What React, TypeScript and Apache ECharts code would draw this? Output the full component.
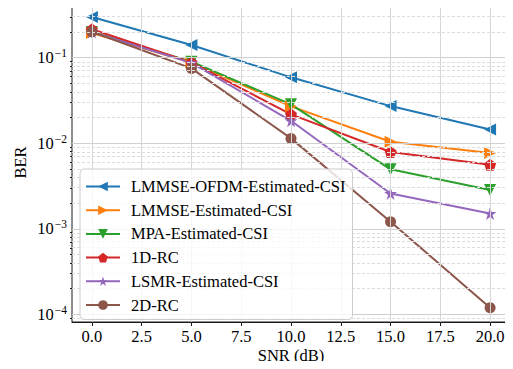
import React, { useEffect, useRef } from "react";
import * as echarts from "echarts";

const snr = [0, 5, 10, 15, 20];
const seriesNames = [
  "LMMSE-OFDM-Estimated-CSI",
  "LMMSE-Estimated-CSI",
  "MPA-Estimated-CSI",
  "1D-RC",
  "LSMR-Estimated-CSI",
  "2D-RC",
];
const berLmmseOfdm = [0.3, 0.141, 0.059, 0.0272, 0.0145];
const berLmmse = [0.195, 0.088, 0.027, 0.0104, 0.0077];
const berMpa = [0.2, 0.09, 0.0285, 0.00496, 0.00284];
const ber1dRc = [0.215, 0.088, 0.0218, 0.0079, 0.0056];
const berLsmr = [0.2, 0.087, 0.0183, 0.00259, 0.00151];
const ber2dRc = [0.201, 0.075, 0.0114, 0.00121, 0.000119];
const xTicks = [0, 2.5, 5, 7.5, 10, 12.5, 15, 17.5, 20];
const yMajorExp = [-4, -3, -2, -1];
const colors = ["#1f77b4", "#ff7f0e", "#2ca02c", "#d62728", "#9467bd", "#8c564b"];

const FONT = "Liberation Serif";
const FS = 16.5;

const pentagon =
  "path://M0,-1 L0.951,-0.309 L0.588,0.809 L-0.588,0.809 L-0.951,-0.309 Z";
const star =
  "path://M0,-1 L0.2245,-0.309 L0.951,-0.309 L0.363,0.118 L0.588,0.809 L0,0.382 L-0.588,0.809 L-0.363,0.118 L-0.951,-0.309 L-0.2245,-0.309 Z";

export default function App() {
  const ref = useRef<HTMLDivElement>(null);
  useEffect(() => {
    if (!ref.current) return;
    const chart = echarts.init(ref.current, null, { renderer: "svg" });
    const yMin = -4.09;
    const yMax = -0.36;
    const minor: number[] = [];
    for (let e = -5; e <= 0; e++) {
      for (let k = 2; k <= 9; k++) {
        const v = Math.log10(k * Math.pow(10, e));
        if (v >= yMin && v <= yMax) minor.push(v);
      }
    }
    const all = [berLmmseOfdm, berLmmse, berMpa, ber1dRc, berLsmr, ber2dRc];
    const symbols = ["triangle", "triangle", "triangle", pentagon, star, "circle"];
    const rotates = [90, -90, 180, 0, 0, 0];
    const sizes = [12, 12, 12, 12, 13, 11];
    const series: any[] = all.map((arr, i) => ({
      name: seriesNames[i],
      type: "line",
      data: arr.map((v, j) => [snr[j], Math.log10(v)]),
      symbol: symbols[i],
      symbolRotate: rotates[i],
      symbolSize: sizes[i],
      showAllSymbol: true,
      lineStyle: { color: colors[i], width: 2 },
      itemStyle: { color: colors[i] },
      z: 3,
    }));
    const gridLines: any[] = [];
    xTicks.forEach((x) =>
      gridLines.push({ xAxis: x, lineStyle: { color: "#d6d6d6", width: 1, type: "solid" } })
    );
    minor.forEach((y) =>
      gridLines.push({ yAxis: y, lineStyle: { color: "#dcdcdc", width: 1, type: [3, 2] } })
    );
    yMajorExp.forEach((y) =>
      gridLines.push({ yAxis: y, lineStyle: { color: "#d0d0d0", width: 1, type: "solid" } })
    );
    series.unshift({
      name: "grid",
      type: "line",
      data: [],
      z: 1,
      silent: true,
      markLine: {
        silent: true,
        symbol: ["none", "none"],
        label: { show: false },
        animation: false,
        data: gridLines,
      },
    });
    chart.setOption({
      animation: false,
      textStyle: { fontFamily: FONT },
      grid: {
        left: 72,
        right: 3,
        top: 3,
        bottom: 47,
        show: true,
        borderColor: "#1a1a1a",
        borderWidth: 1,
        backgroundColor: "transparent",
        outerBoundsMode: "none",
      },
      legend: {
        data: seriesNames,
        orient: "vertical",
        left: 80,
        top: 169,
        z: 20,
        itemWidth: 34,
        itemHeight: 12,
        itemGap: 6.7,
        padding: [9, 7, 6, 5],
        backgroundColor: "rgba(255,255,255,0.8)",
        borderColor: "#cccccc",
        borderWidth: 1,
        borderRadius: 4,
        textStyle: {
          fontFamily: FONT,
          fontSize: FS,
          color: "#000",
          lineHeight: 16,
          padding: [0, 0, 0, 6],
        },
      },
      xAxis: {
        type: "value",
        min: -1,
        max: 21,
        name: "SNR (dB)",
        nameLocation: "middle",
        nameGap: 25,
        nameMoveOverlap: false,
        nameTextStyle: { fontFamily: FONT, fontSize: FS, color: "#000", lineHeight: 16 },
        axisLine: { show: true, lineStyle: { color: "#1a1a1a", width: 1 } },
        axisTick: { show: true, customValues: xTicks, length: 4, lineStyle: { color: "#1a1a1a" } },
        axisLabel: {
          customValues: xTicks,
          formatter: (v: number) => v.toFixed(1),
          fontFamily: FONT,
          fontSize: FS,
          lineHeight: 15,
          color: "#000",
          margin: 7,
        },
        splitLine: { show: false },
      },
      yAxis: [
        {
          type: "value",
          min: yMin,
          max: yMax,
          name: "BER",
          nameLocation: "middle",
          nameGap: 43,
          nameMoveOverlap: false,
          nameRotate: 90,
          nameTextStyle: { fontFamily: FONT, fontSize: FS, color: "#000" },
          axisLine: { show: true, lineStyle: { color: "#1a1a1a", width: 1 } },
          axisTick: { show: true, customValues: yMajorExp, length: 4, lineStyle: { color: "#1a1a1a" } },
          axisLabel: {
            customValues: yMajorExp,
            formatter: (v: number) => `{b|10}{s|\u2212${Math.abs(Math.round(v))}}`,
            margin: 5,
            rich: {
              b: { fontFamily: FONT, fontSize: FS, color: "#000" },
              s: { fontFamily: FONT, fontSize: 11.5, color: "#000", padding: [0, 0, 9, 1] },
            },
          },
          splitLine: { show: false },
        },
        {
          type: "value",
          min: yMin,
          max: yMax,
          position: "left",
          axisLine: { show: false },
          axisTick: { show: true, customValues: minor, length: 2, lineStyle: { color: "#1a1a1a" } },
          axisLabel: { show: false },
          splitLine: { show: false },
        },
      ],
      series,
    });
    return () => chart.dispose();
  }, []);
  return <div ref={ref} style={{ width: 513, height: 369, margin: -8 }} />;
}
